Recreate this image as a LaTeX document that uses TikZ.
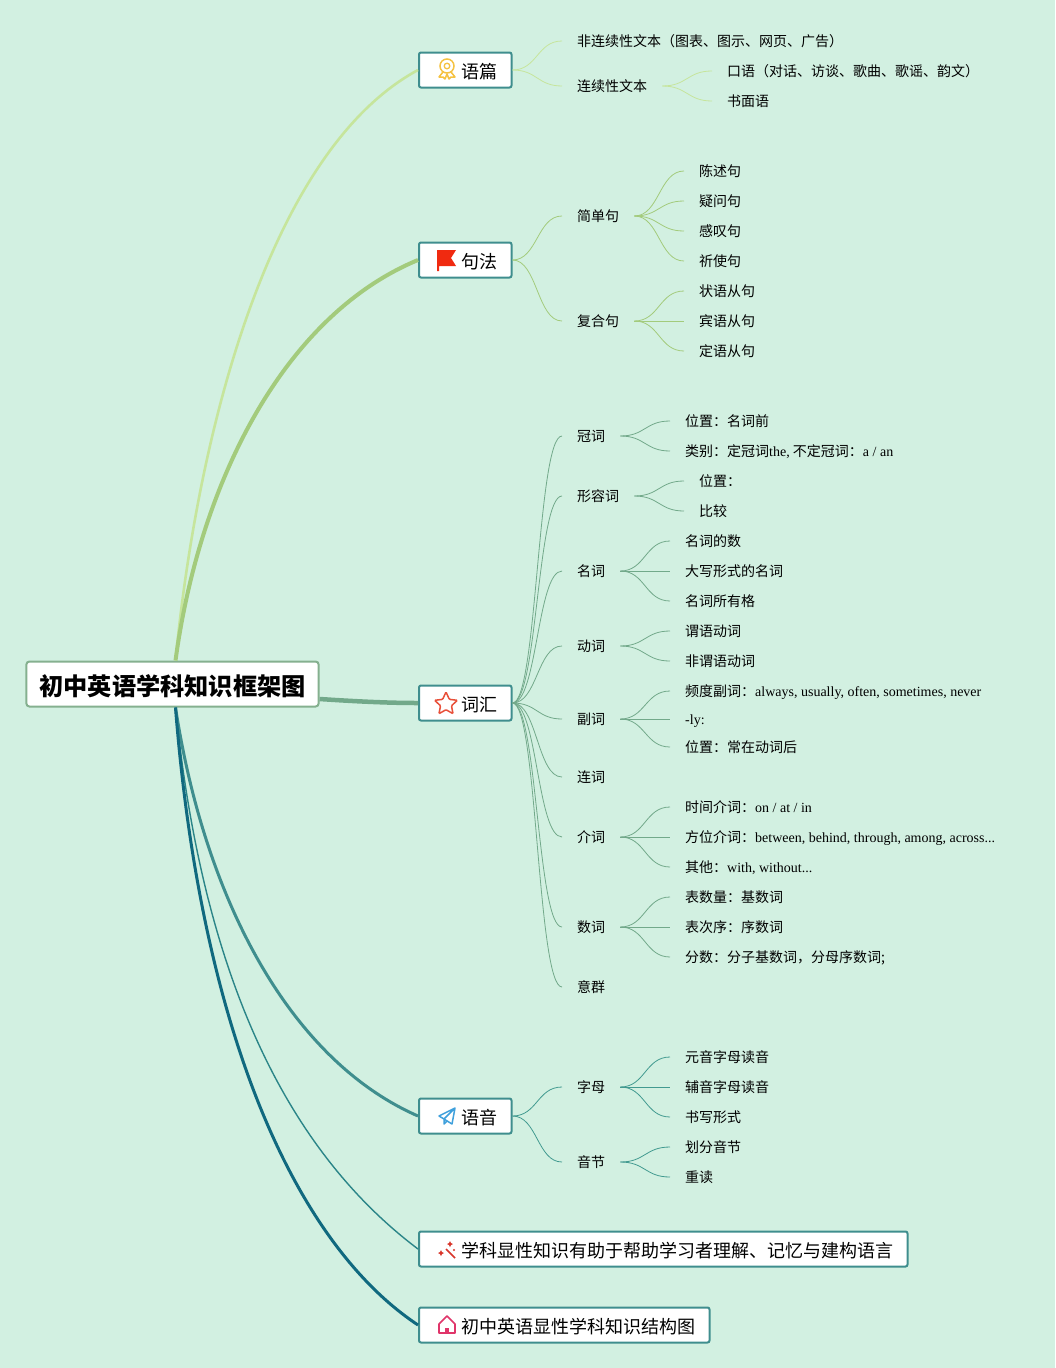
\documentclass[tikz,border=0pt]{standalone}
\usepackage{fontspec}
\setmainfont{Liberation Serif}
\newfontfamily\cjk{Noto Sans CJK SC}
\usetikzlibrary{calc,positioning,shapes.geometric}
\definecolor{paper}{HTML}{D2F0E1}
\definecolor{boxline}{HTML}{3F8E8E}
\definecolor{rootline}{HTML}{85B08F}
\definecolor{ypcol}{HTML}{C6E59C}
\definecolor{jfcol}{HTML}{A3CB7C}
\definecolor{chcol}{HTML}{72A98A}
\definecolor{yycol}{HTML}{429A90}
\definecolor{jgcol}{HTML}{10697F}
\definecolor{xxcol}{HTML}{2B8588}
\definecolor{medalcol}{HTML}{F5C242}
\definecolor{flagcol}{HTML}{F02A10}
\definecolor{starcol}{HTML}{E8503A}
\definecolor{planecol}{HTML}{3FA0DC}
\definecolor{wandcol}{HTML}{D8352A}
\definecolor{housecol}{HTML}{E0356A}
\newcommand{\en}[1]{{\rmfamily #1}}
\newcommand{\lnk}[3]{\coordinate (mid) at ($(#2.east)!.5!(#3.west)$);
	\draw[#1] (#2.east) .. controls (#2.east -| mid) and (#3.west -| mid) .. (#3.west);}
\tikzset{
	rootbox/.style={draw=rootline,line width=2pt,fill=white,rounded corners=3pt,inner xsep=13pt,minimum height=45pt,text height=22pt,text depth=0pt,font=\fontsize{24.2}{29}\cjk\bfseries},
	topicbox/.style={draw=boxline,line width=2pt,fill=white,rounded corners=2pt,anchor=west,inner xsep=14.5pt,inner ysep=0pt,minimum height=35pt,text height=17pt,text depth=0pt,font=\fontsize{18}{22}\cjk},
	leaf/.style={anchor=west,inner xsep=15pt,inner ysep=0pt,text height=12pt,text depth=2pt,font=\fontsize{14}{17}\cjk},
	yp/.style={ypcol,line width=0.8pt},
	jf/.style={jfcol,line width=0.8pt},
	ch/.style={chcol,line width=0.8pt},
	yy/.style={yycol,line width=0.8pt},
	medal/.pic={
		\draw[draw=medalcol,line width=1.5pt] (0,-3) circle (7);
		\draw[draw=medalcol,line width=1.3pt] (0,-3) circle (2.8);
		\draw[draw=medalcol,line width=1.5pt,line join=round] (-4,3) -- (-8,8) -- (-4,8) -- (-2,10) -- (0,5) -- (2,10) -- (4,8) -- (8,8) -- (4,3);
	},
	redflag/.pic={
		\fill[flagcol] (-10,-10) -- (9,-10) -- (4,-2) -- (9,6) -- (-8,6) -- (-8,11) -- (-10,11) -- cycle;
	},
	paperplane/.pic={
		\draw[draw=planecol,line width=1.5pt,line join=round] (8,-8) -- (-8,0) -- (-3,3) -- (8,-8) -- (5,8) -- (-3,3) -- (-3,8) -- (0,5);
	},
	wand/.pic={
		\draw[draw=wandcol,line width=1.6pt] (-1,-1) -- (8,8);
		\fill[wandcol] (-6,0) -- (-5,2) -- (-3,3) -- (-5,4) -- (-6,6) -- (-7,4) -- (-9,3) -- (-7,2) -- cycle;
		\fill[wandcol] (3,-9) -- (4,-7) -- (6,-6) -- (4,-5) -- (3,-3) -- (2,-5) -- (0,-6) -- (2,-7) -- cycle;
		\fill[wandcol] (7,0) circle (1.2);
	},
	househome/.pic={
		\draw[draw=housecol,line width=1.6pt,line join=round] (-8,-1) -- (0,-9) -- (8,-1) -- (8,8) -- (-8,8) -- cycle;
		\fill[housecol] (-2,8) rectangle (2,3);
	},
}
\begin{document}
\begin{tikzpicture}[x=1pt,y=-1pt]
	\useasboundingbox[fill=paper] (0,0) rectangle (1055,1368);
	\node[rootbox] (root) at (172.5,684) {初中英语学科知识框架图};
	\node[topicbox] (yupian) at (418,70) {\hspace*{27.5pt}语篇};
	\node[topicbox] (jufa) at (418,260) {\hspace*{27.5pt}句法};
	\node[topicbox] (cihui) at (418,703) {\hspace*{27.5pt}词汇};
	\node[topicbox] (yuyin) at (418,1116) {\hspace*{27.5pt}语音};
	\node[topicbox] (xianxing) at (418,1249) {\hspace*{27.5pt}学科显性知识有助于帮助学习者理解、记忆与建构语言};
	\node[topicbox] (jiegou) at (418,1325) {\hspace*{27.5pt}初中英语显性学科知识结构图};
	\draw[ypcol,line width=2.6pt] ([xshift=3pt]root.north) .. controls (198,430) and (270,150) .. (yupian.west);
	\draw[jfcol,line width=4pt] ([xshift=3pt]root.north) .. controls (200,480) and (285,315) .. (jufa.west);
	\draw[chcol,line width=4.5pt] ([yshift=-15pt]root.east) .. controls (350,701) and (385,703) .. (cihui.west);
	\draw[boxline,line width=3pt] ([xshift=3pt]root.south) .. controls (205,900) and (290,1060) .. (yuyin.west);
	\draw[xxcol,line width=1.4pt] ([xshift=3pt]root.south) .. controls (205,1000) and (300,1160) .. (xianxing.west);
	\draw[jgcol,line width=3pt] ([xshift=3pt]root.south) .. controls (200,1020) and (290,1240) .. (jiegou.west);
	\pic at (447,69) {medal};
	\pic at (447,260) {redflag};
	\node[star,star points=5,star point ratio=2.1,draw=starcol,line width=1.5pt,rounded corners=1pt,inner sep=0pt,minimum size=24pt] (staricon) at (446,704) {};
	\pic at (447,1116) {paperplane};
	\pic at (447,1250) {wand};
	\pic at (447,1325) {househome};
	\node[leaf] (feilian) at (562,41) {非连续性文本（图表、图示、网页、广告）};
	\node[leaf] (lianxu) at (562,86) {连续性文本};
	\node[leaf] (kouyu) at (712,71) {口语（对话、访谈、歌曲、歌谣、韵文）};
	\node[leaf] (shumian) at (712,101) {书面语};
	\lnk{yp}{yupian}{feilian}
	\lnk{yp}{yupian}{lianxu}
	\lnk{yp}{lianxu}{kouyu}
	\lnk{yp}{lianxu}{shumian}
	\node[leaf] (jiandan) at (562,216) {简单句};
	\node[leaf] (chenshu) at (684,171) {陈述句};
	\node[leaf] (yiwen) at (684,201) {疑问句};
	\node[leaf] (gantan) at (684,231) {感叹句};
	\node[leaf] (qishi) at (684,261) {祈使句};
	\node[leaf] (fuhe) at (562,321) {复合句};
	\node[leaf] (zhuangyu) at (684,291) {状语从句};
	\node[leaf] (binyu) at (684,321) {宾语从句};
	\node[leaf] (dingyu) at (684,351) {定语从句};
	\lnk{jf}{jufa}{jiandan}
	\lnk{jf}{jufa}{fuhe}
	\lnk{jf}{jiandan}{chenshu}
	\lnk{jf}{jiandan}{yiwen}
	\lnk{jf}{jiandan}{gantan}
	\lnk{jf}{jiandan}{qishi}
	\lnk{jf}{fuhe}{zhuangyu}
	\lnk{jf}{fuhe}{binyu}
	\lnk{jf}{fuhe}{dingyu}
	\node[leaf] (guanci) at (562,436) {冠词};
	\node[leaf] (gcweizhi) at (670,421) {位置：名词前};
	\node[leaf] (gcleibie) at (670,451) {类别：定冠词\en{the,} 不定冠词：\en{a / an}};
	\node[leaf] (xingrong) at (562,496) {形容词};
	\node[leaf] (xrweizhi) at (684,481) {位置：};
	\node[leaf] (xrbijiao) at (684,511) {比较};
	\node[leaf] (mingci) at (562,571) {名词};
	\node[leaf] (mcshu) at (670,541) {名词的数};
	\node[leaf] (mcdaxie) at (670,571) {大写形式的名词};
	\node[leaf] (mcsuoyou) at (670,601) {名词所有格};
	\node[leaf] (dongci) at (562,646) {动词};
	\node[leaf] (dcweiyu) at (670,631) {谓语动词};
	\node[leaf] (dcfei) at (670,661) {非谓语动词};
	\node[leaf] (fuci) at (562,719) {副词};
	\node[leaf] (fcpindu) at (670,691) {频度副词：\en{always, usually, often, sometimes, never}};
	\node[leaf] (fcly) at (670,719) {\en{-ly:}};
	\node[leaf] (fcweizhi) at (670,747) {位置：常在动词后};
	\node[leaf] (lianci) at (562,777) {连词};
	\node[leaf] (jieci) at (562,837) {介词};
	\node[leaf] (jcshijian) at (670,807) {时间介词：\en{on / at / in}};
	\node[leaf] (jcfangwei) at (670,837) {方位介词：\en{between, behind, through, among, across...}};
	\node[leaf] (jcqita) at (670,867) {其他：\en{with, without...}};
	\node[leaf] (shuci) at (562,927) {数词};
	\node[leaf] (scjishu) at (670,897) {表数量：基数词};
	\node[leaf] (scxushu) at (670,927) {表次序：序数词};
	\node[leaf] (scfenshu) at (670,957) {分数：分子基数词，分母序数词;};
	\node[leaf] (yiqun) at (562,987) {意群};
	\lnk{ch}{cihui}{guanci}
	\lnk{ch}{cihui}{xingrong}
	\lnk{ch}{cihui}{mingci}
	\lnk{ch}{cihui}{dongci}
	\lnk{ch}{cihui}{fuci}
	\lnk{ch}{cihui}{lianci}
	\lnk{ch}{cihui}{jieci}
	\lnk{ch}{cihui}{shuci}
	\lnk{ch}{cihui}{yiqun}
	\lnk{ch}{guanci}{gcweizhi}
	\lnk{ch}{guanci}{gcleibie}
	\lnk{ch}{xingrong}{xrweizhi}
	\lnk{ch}{xingrong}{xrbijiao}
	\lnk{ch}{mingci}{mcshu}
	\lnk{ch}{mingci}{mcdaxie}
	\lnk{ch}{mingci}{mcsuoyou}
	\lnk{ch}{dongci}{dcweiyu}
	\lnk{ch}{dongci}{dcfei}
	\lnk{ch}{fuci}{fcpindu}
	\lnk{ch}{fuci}{fcly}
	\lnk{ch}{fuci}{fcweizhi}
	\lnk{ch}{jieci}{jcshijian}
	\lnk{ch}{jieci}{jcfangwei}
	\lnk{ch}{jieci}{jcqita}
	\lnk{ch}{shuci}{scjishu}
	\lnk{ch}{shuci}{scxushu}
	\lnk{ch}{shuci}{scfenshu}
	\node[leaf] (zimu) at (562,1087) {字母};
	\node[leaf] (yuanyin) at (670,1057) {元音字母读音};
	\node[leaf] (fuyin) at (670,1087) {辅音字母读音};
	\node[leaf] (shuxie) at (670,1117) {书写形式};
	\node[leaf] (yinjie) at (562,1162) {音节};
	\node[leaf] (huafen) at (670,1147) {划分音节};
	\node[leaf] (zhongdu) at (670,1177) {重读};
	\lnk{yy}{yuyin}{zimu}
	\lnk{yy}{yuyin}{yinjie}
	\lnk{yy}{zimu}{yuanyin}
	\lnk{yy}{zimu}{fuyin}
	\lnk{yy}{zimu}{shuxie}
	\lnk{yy}{yinjie}{huafen}
	\lnk{yy}{yinjie}{zhongdu}
\end{tikzpicture}
\end{document}
